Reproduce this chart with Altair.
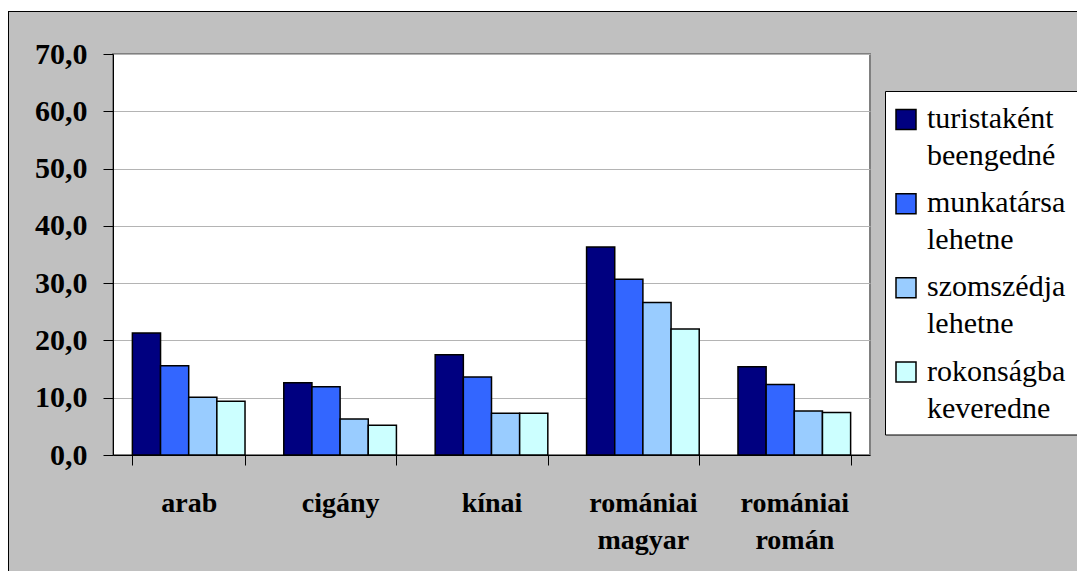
import altair as alt
import pandas as pd

categories = ["arab", "cigány", "kínai", "romániai magyar", "romániai román"]
series = ["turistaként beengedné", "munkatársa lehetne", "szomszédja lehetne", "rokonságba keveredne"]
turistakent = [21.3, 12.6, 17.5, 36.3, 15.4]
munkatarsa = [15.6, 11.9, 13.6, 30.7, 12.3]
szomszedja = [10.1, 6.3, 7.3, 26.6, 7.7]
rokonsagba = [9.4, 5.2, 7.3, 22.0, 7.4]
colors = ["#000080", "#3366FF", "#99CCFF", "#CCFFFF"]
y_ticks = [0, 10, 20, 30, 40, 50, 60, 70]

SERIF = "Liberation Serif"

rows = []
for s, vals in zip(series, [turistakent, munkatarsa, szomszedja, rokonsagba]):
    for c, v in zip(categories, vals):
        rows.append({"kategoria": c, "sorozat": s, "ertek": v})
df = pd.DataFrame(rows)
legend_df = pd.DataFrame({"sorozat": series})

color_enc = alt.Color("sorozat:N", sort=series,
                      scale=alt.Scale(domain=series, range=colors), legend=None)

bars = alt.Chart(df).mark_bar(stroke="black", strokeWidth=1.5).encode(
    x=alt.X(
        "kategoria:N",
        sort=categories,
        scale=alt.Scale(paddingInner=0.256, paddingOuter=0.128),
        axis=alt.Axis(
            title=None, labelAngle=0, labelExpr="split(datum.label, ' ')",
            labelFont=SERIF, labelFontSize=28, labelFontWeight="bold",
            labelColor="black", labelLineHeight=37, labelPadding=24,
            tickSize=10, tickBand="extent", tickColor="black", domainColor="black",
            grid=False,
        ),
    ),
    xOffset=alt.XOffset("sorozat:N", sort=series, scale=alt.Scale(paddingInner=0, paddingOuter=0)),
    y=alt.Y(
        "ertek:Q",
        scale=alt.Scale(domain=[0, 70], nice=False),
        axis=alt.Axis(
            title=None, values=y_ticks,
            labelExpr="replace(format(datum.value, '.1f'), '.', ',')",
            labelFont=SERIF, labelFontSize=30, labelFontWeight="bold",
            labelColor="black", labelPadding=16, tickSize=10, tickColor="black",
            domainColor="black", gridColor="#b4b4b4", gridWidth=1,
        ),
    ),
    color=color_enc,
)

# legend (box, swatches, labels) drawn from the series list
legend_y = alt.Y("sorozat:N", sort=series,
                 scale=alt.Scale(type="point", range=[65.5, 318], padding=0),
                 axis=None)

deco = pd.DataFrame({"d": [0]})
legend_box = alt.Chart(deco).mark_rect(fill="white", stroke="black", strokeWidth=1).encode(
    x=alt.value(772.5), x2=alt.value(970), y=alt.value(37.5), y2=alt.value(381)
)
legend_sym = alt.Chart(legend_df).mark_square(
    size=400, filled=True, opacity=1, stroke="black", strokeWidth=1.5
).encode(x=alt.value(793), y=legend_y, color=color_enc)
legend_txt = alt.Chart(legend_df).mark_text(
    align="left", baseline="alphabetic", dy=8.5, font=SERIF, fontSize=30,
    lineBreak=" ", lineHeight=37, color="black"
).encode(x=alt.value(814), y=legend_y, text="sorozat:N")

top_white = alt.Chart(deco).mark_rect(color="white").encode(
    x=alt.value(-105), x2=alt.value(964), y=alt.value(-46), y2=alt.value(-43)
)
top_line = alt.Chart(deco).mark_rule(color="black", strokeWidth=1).encode(
    x=alt.value(-105), x2=alt.value(964), y=alt.value(-42.5)
)
left_line = alt.Chart(deco).mark_rule(color="black", strokeWidth=1).encode(
    x=alt.value(-104.5), y=alt.value(-42.5), y2=alt.value(517)
)

chart = alt.layer(
    bars, legend_box, legend_sym, legend_txt, top_white, top_line, left_line
).resolve_scale(y="independent").properties(
    width=757, height=401,
    autosize=alt.AutoSizeParams(type="none"),
    padding={"left": 105, "top": 46, "right": 207, "bottom": 116},
    background="#c0c0c0",
).configure_view(
    fill="white", stroke="#808080", strokeWidth=2
)

chart.save("out.html", embed_options={"renderer": "svg", "actions": False})
